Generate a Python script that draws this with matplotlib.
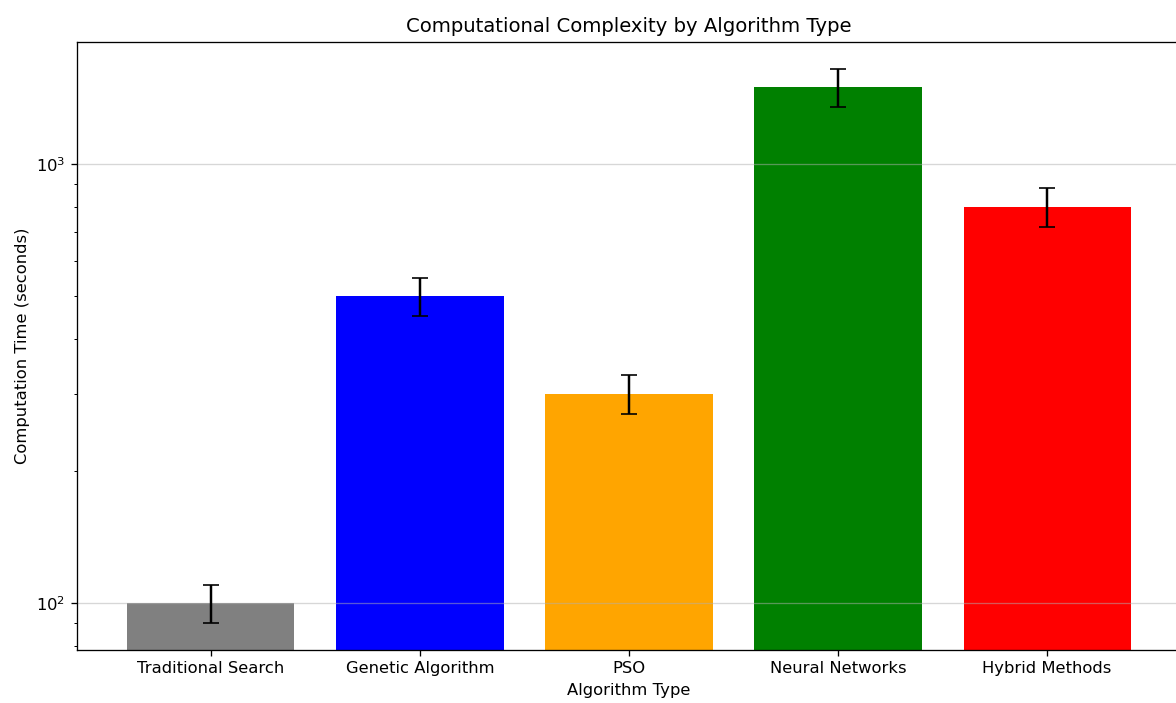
import matplotlib
matplotlib.use("Agg")
import matplotlib.pyplot as plt

# Mean computation time per algorithm family, with spread
algorithms = ["Traditional Search", "Genetic Algorithm", "PSO", "Neural Networks", "Hybrid Methods"]
times = [100, 500, 300, 1500, 800]
errors = [10, 50, 30, 150, 80]
colors = ["gray", "blue", "orange", "green", "red"]

DPI = 118
fig = plt.figure(figsize=(1176 / DPI, 703 / DPI), dpi=DPI)
ax = fig.add_axes([77 / 1176, 53 / 703, (1181 - 77) / 1176, (650 - 42) / 703])

ax.bar(algorithms, times, yerr=errors, color=colors, capsize=5)
ax.set_yscale("log")
ax.set_ylim(78.2, 1897)
ax.set_xlim(-0.64, 4.64)

ax.set_title("Computational Complexity by Algorithm Type")
ax.set_xlabel("Algorithm Type")
ax.set_ylabel("Computation Time (seconds)")
ax.grid(True, axis="y", alpha=0.5)

fig.savefig("out.png", dpi=DPI)
